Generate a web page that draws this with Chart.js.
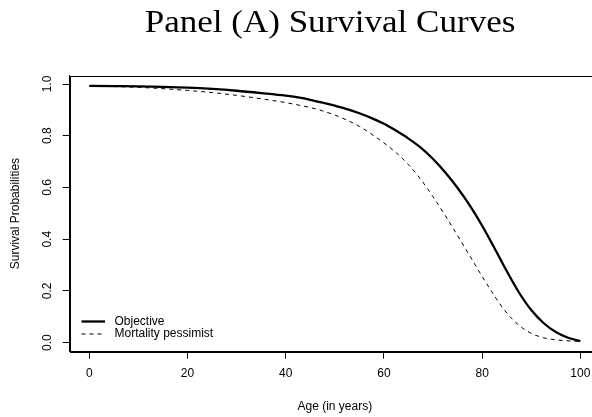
<!DOCTYPE html>
<html>
<head>
<meta charset="utf-8">
<script src="https://cdn.jsdelivr.net/npm/chart.js@4.4.1/dist/chart.umd.min.js"></script>
<style>
  html, body { margin: 0; padding: 0; background: #fff; overflow: hidden; }
  #wrap { width: 612px; height: 417px; }
</style>
</head>
<body>
<div id="wrap"><canvas id="c" width="612" height="417"></canvas></div>
<script>
// ---- Data ----
const ages = [0, 5, 10, 15, 20, 25, 30, 35, 40, 42.5, 45, 47.5, 50, 52.5, 55, 57.5, 60, 62.5, 65, 67.5, 70, 72.5, 75, 77.5, 80, 82.5, 85, 87.5, 90, 92.5, 95, 97.5, 100];
const objective = [0.993, 0.992, 0.991, 0.989, 0.986, 0.981, 0.974, 0.965, 0.955, 0.948, 0.939, 0.928, 0.916, 0.903, 0.887, 0.868, 0.846, 0.819, 0.789, 0.754, 0.710, 0.658, 0.598, 0.530, 0.452, 0.366, 0.277, 0.194, 0.126, 0.076, 0.041, 0.019, 0.006];
const pessimist = [0.991, 0.990, 0.987, 0.982, 0.975, 0.967, 0.956, 0.943, 0.928, 0.919, 0.909, 0.896, 0.880, 0.860, 0.836, 0.806, 0.772, 0.734, 0.688, 0.631, 0.564, 0.491, 0.414, 0.335, 0.256, 0.181, 0.115, 0.067, 0.036, 0.019, 0.011, 0.007, 0.005];
const xTicks = [0, 20, 40, 60, 80, 100];
const yTicks = [0, 0.2, 0.4, 0.6, 0.8, 1.0];
const yTickLabels = ['0.0', '0.2', '0.4', '0.6', '0.8', '1.0'];
const seriesNames = ['Objective', 'Mortality pessimist'];
const titleText = 'Panel (A) Survival Curves';
const xTitle = 'Age (in years)';
const yTitle = 'Survival Probabilities';

const SANS = '"Liberation Sans", Arial, Helvetica, sans-serif';

const extras = {
  id: 'extras',
  afterDraw(chart) {
    const ctx = chart.ctx;
    const a = chart.chartArea;
    const ys = chart.scales.y;
    ctx.save();
    // box
    ctx.strokeStyle = '#000';
    ctx.lineWidth = 1;
    ctx.setLineDash([]);
    ctx.strokeRect(Math.round(a.left) + 0.5, Math.round(a.top) + 0.5,
                   Math.round(a.right - a.left), Math.round(a.bottom - a.top));
    // y tick labels (rotated, R style)
    ctx.fillStyle = '#000';
    ctx.font = '12px ' + SANS;
    ctx.textAlign = 'center';
    ctx.textBaseline = 'middle';
    yTicks.forEach((v, i) => {
      const py = ys.getPixelForValue(v);
      ctx.save();
      ctx.translate(47.5, py);
      ctx.rotate(-Math.PI / 2);
      ctx.fillText(yTickLabels[i], 0, 0);
      ctx.restore();
    });
    // y title
    ctx.save();
    ctx.translate(15.5, (a.top + a.bottom) / 2);
    ctx.rotate(-Math.PI / 2);
    ctx.fillText(yTitle, 0, 0);
    ctx.restore();
    // x title
    ctx.fillText(xTitle, (a.left + a.right) / 2, 406.5);
    // title
    ctx.save();
    ctx.font = '31px "Liberation Serif", "Times New Roman", serif';
    ctx.textBaseline = 'alphabetic';
    ctx.translate(330, 32);
    ctx.scale(1.13, 1);
    ctx.fillText(titleText, 0, 0);
    ctx.restore();
    // legend
    const lx0 = 81.5, lx1 = 105, tx = 114.5;
    const rows = [321.5, 334];
    chart.data.datasets.forEach((ds, i) => {
      ctx.beginPath();
      ctx.lineWidth = ds.borderWidth;
      ctx.setLineDash(ds.borderDash || []);
      ctx.moveTo(lx0, rows[i]);
      ctx.lineTo(lx1, rows[i]);
      ctx.stroke();
      ctx.setLineDash([]);
      ctx.textAlign = 'left';
      ctx.font = '12px ' + SANS;
      ctx.fillText(ds.label, tx, rows[i]);
    });
    ctx.restore();
  }
};

new Chart(document.getElementById('c'), {
  type: 'line',
  data: {
    datasets: [
      {
        label: seriesNames[0],
        data: ages.map((x, i) => ({ x: x, y: objective[i] })),
        borderColor: '#000',
        borderWidth: 2.3,
        pointRadius: 0,
        cubicInterpolationMode: 'monotone',
        fill: false
      },
      {
        label: seriesNames[1],
        data: ages.map((x, i) => ({ x: x, y: pessimist[i] })),
        borderColor: '#000',
        borderWidth: 1,
        borderDash: [4, 4],
        pointRadius: 0,
        cubicInterpolationMode: 'monotone',
        fill: false
      }
    ]
  },
  options: {
    responsive: false,
    animation: false,
    devicePixelRatio: 1,
    layout: { padding: { left: 0, top: 75.6, right: 12, bottom: 0 } },
    plugins: { legend: { display: false }, title: { display: false }, tooltip: { enabled: false } },
    scales: {
      x: {
        type: 'linear',
        min: -4,
        max: 104,
        afterBuildTicks: (s) => { s.ticks = xTicks.map(v => ({ value: v })); },
        afterFit: (s) => { s.height = 417 - 351.6; },
        ticks: { color: '#000', font: { size: 12, family: SANS }, padding: 8, maxRotation: 0, autoSkip: false },
        grid: { display: true, drawOnChartArea: false, drawTicks: true, tickLength: 7, color: '#000', lineWidth: 1 },
        border: { display: true, color: '#000', width: 1 }
      },
      y: {
        type: 'linear',
        min: -0.0345,
        max: 1.0325,
        afterBuildTicks: (s) => { s.ticks = yTicks.map(v => ({ value: v })); },
        afterFit: (s) => { s.width = 69.7; },
        ticks: { display: false },
        grid: { display: true, drawOnChartArea: false, drawTicks: true, tickLength: 7, color: '#000', lineWidth: 1 },
        border: { display: true, color: '#000', width: 1 }
      }
    }
  },
  plugins: [extras]
});
</script>
</body>
</html>
